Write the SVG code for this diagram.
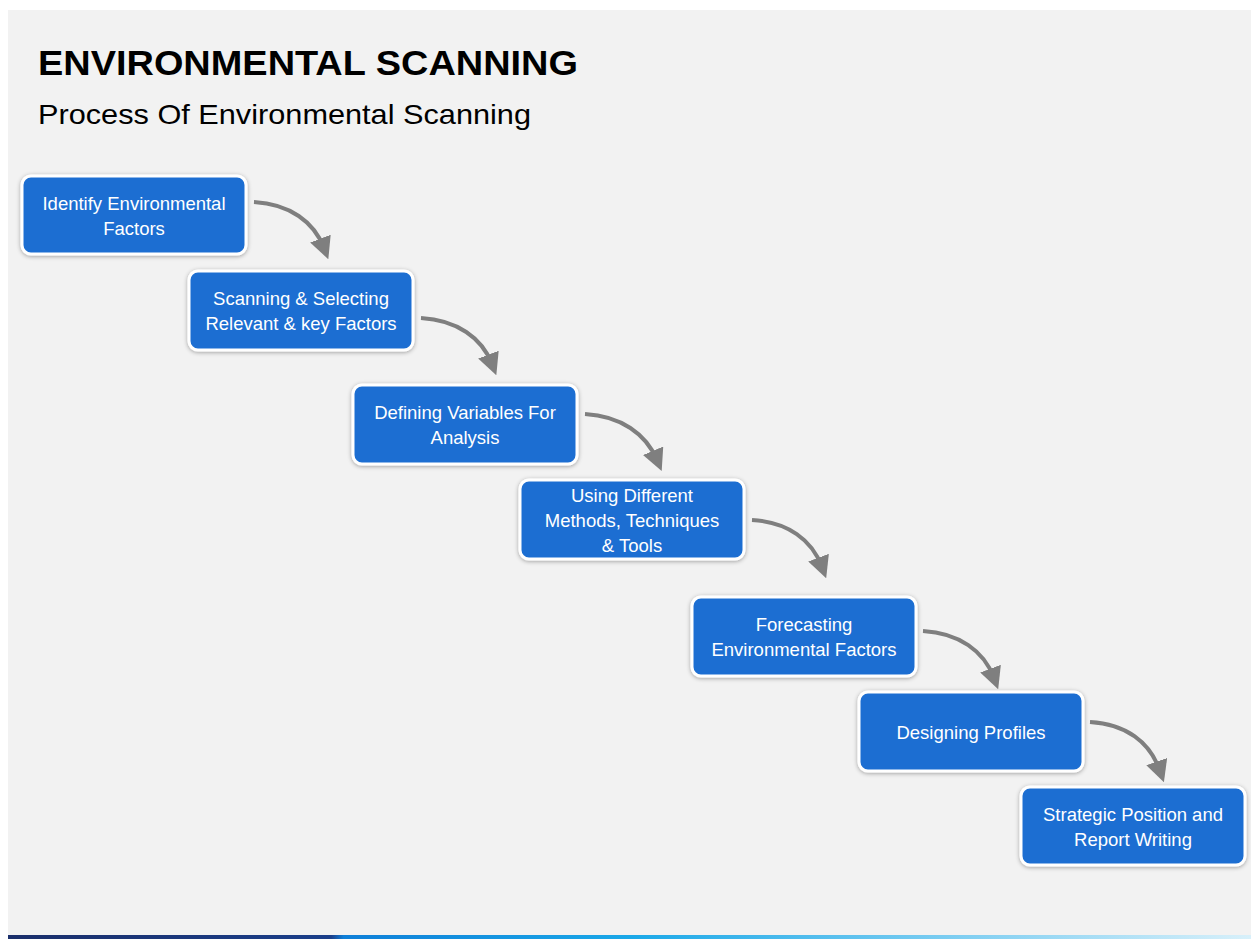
<svg xmlns="http://www.w3.org/2000/svg" width="1251" height="939" viewBox="0 0 1251 939">
<defs>
<style>
.nb{fill:#1C6ED2;stroke:#ffffff;stroke-width:3;filter:url(#sh)}
.nt{fill:#ffffff;font-family:"Liberation Sans",Arial,sans-serif;font-size:18.5px;text-anchor:middle}
.cn{fill:none;stroke:#7F7F7F;stroke-width:4;marker-end:url(#ah)}
</style>
<filter id="sh" x="-10%" y="-20%" width="120%" height="140%">
<feDropShadow dx="0" dy="1" stdDeviation="2" flood-color="#000" flood-opacity="0.35"/>
</filter>
<marker id="ah" markerWidth="5.5" markerHeight="5.5" refX="2.5" refY="2.75" orient="auto" markerUnits="strokeWidth">
<path d="M0,0 L5.5,2.75 L0,5.5 Z" fill="#7F7F7F"/>
</marker>
<linearGradient id="bl" x1="0" x2="1" y1="0" y2="0">
<stop offset="0" stop-color="#1B2F6B"/>
<stop offset="0.26" stop-color="#1B3F8A"/>
<stop offset="0.27" stop-color="#0F7FD8"/>
<stop offset="0.5" stop-color="#1AA8E8"/>
<stop offset="1" stop-color="#D8F0FA"/>
</linearGradient>
</defs>
<rect x="0" y="0" width="1251" height="939" fill="#ffffff"/>
<rect x="8" y="10" width="1243" height="926" fill="#F2F2F2"/>
<rect x="8" y="935" width="1243" height="4" fill="url(#bl)"/>
<text x="38" y="75" font-family="Liberation Sans,Arial,sans-serif" font-weight="bold" font-size="35" textLength="540" lengthAdjust="spacingAndGlyphs" fill="#000">ENVIRONMENTAL SCANNING</text>
<text x="38" y="124" font-family="Liberation Sans,Arial,sans-serif" font-size="28" textLength="493" lengthAdjust="spacingAndGlyphs" fill="#000">Process Of Environmental Scanning</text>
<g id="connectors">
<path class="cn" d="M254,202 C290,204 314,222 324,248"/>
<path class="cn" d="M421,318 C457,320 482,338 492,364"/>
<path class="cn" d="M585,414 C621,416 646,434 657,460"/>
<path class="cn" d="M752,520 C788,522 812,540 822,567"/>
<path class="cn" d="M923,631 C959,633 984,651 994,678"/>
<path class="cn" d="M1090,722 C1126,724 1150,742 1160,771"/>
</g>
<g id="n1"><rect class="nb" x="22" y="176" width="224" height="78" rx="9"/><text class="nt" x="134" y="210">Identify Environmental</text><text class="nt" x="134" y="235">Factors</text></g>
<g id="n2"><rect class="nb" x="189" y="271" width="224" height="79" rx="9"/><text class="nt" x="301" y="305">Scanning &amp; Selecting</text><text class="nt" x="301" y="330">Relevant &amp; key Factors</text></g>
<g id="n3"><rect class="nb" x="353" y="385" width="224" height="79" rx="9"/><text class="nt" x="465" y="419">Defining Variables For</text><text class="nt" x="465" y="444">Analysis</text></g>
<g id="n4"><rect class="nb" x="520" y="480" width="224" height="79" rx="9"/><text class="nt" x="632" y="502">Using Different</text><text class="nt" x="632" y="527">Methods, Techniques</text><text class="nt" x="632" y="552">&amp; Tools</text></g>
<g id="n5"><rect class="nb" x="692" y="597" width="224" height="79" rx="9"/><text class="nt" x="804" y="631">Forecasting</text><text class="nt" x="804" y="656">Environmental Factors</text></g>
<g id="n6"><rect class="nb" x="859" y="692" width="224" height="79" rx="9"/><text class="nt" x="971" y="739">Designing Profiles</text></g>
<g id="n7"><rect class="nb" x="1021" y="787" width="224" height="78" rx="9"/><text class="nt" x="1133" y="821">Strategic Position and</text><text class="nt" x="1133" y="846">Report Writing</text></g>
</svg>
